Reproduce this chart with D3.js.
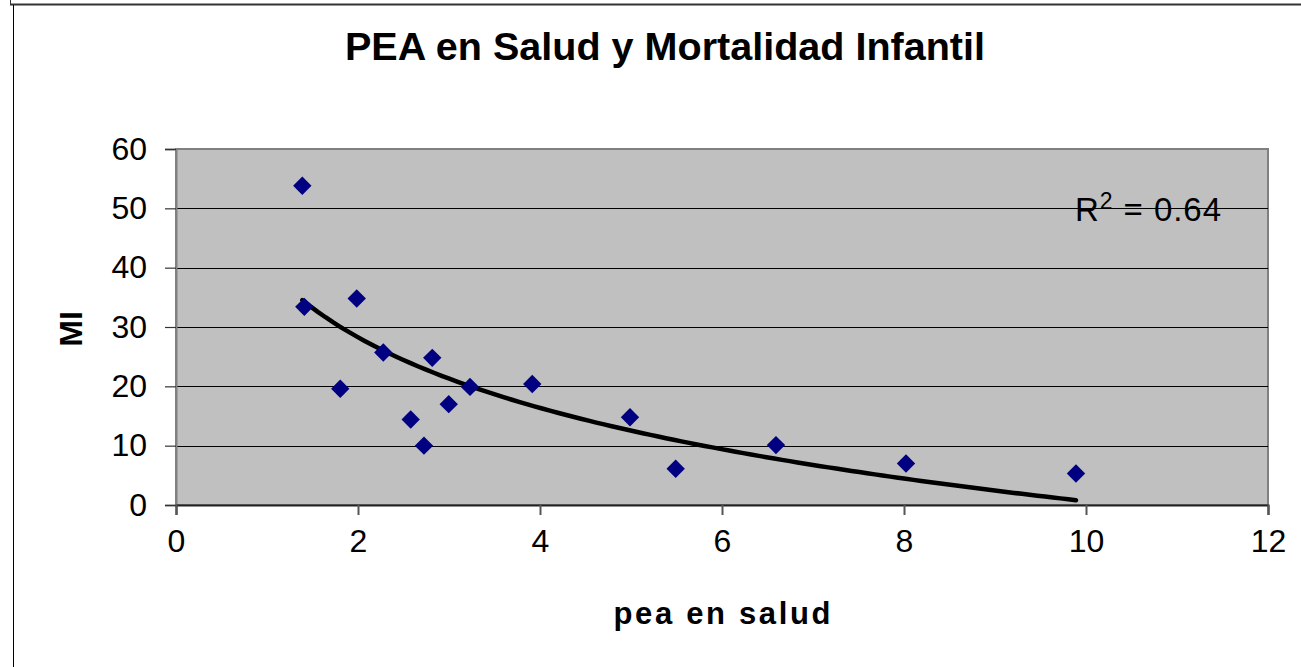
<!DOCTYPE html>
<html>
<head>
<meta charset="utf-8">
<script src="https://cdn.jsdelivr.net/npm/d3@7"></script>
<style>
  html, body { margin: 0; padding: 0; background: #fff; }
  svg { display: block; font-family: "Liberation Sans", Arial, sans-serif; }
</style>
</head>
<body>
<svg id="chart" width="1301" height="667"></svg>
<script>
// ---- data ----
const title = "PEA en Salud y Mortalidad Infantil";
const xTitle = "pea en salud";
const yTitle = "MI";
const peaSalud = [1.388, 1.410, 1.986, 1.805, 2.278, 2.579, 2.725, 2.816, 2.997, 3.231, 3.915, 4.989, 5.491, 6.593, 8.022, 9.890];
const mortInfantil = [53.8, 33.4, 34.8, 19.6, 25.7, 14.4, 10.0, 24.8, 17.0, 19.9, 20.4, 14.8, 6.1, 10.1, 7.0, 5.3];
const xTicks = [0, 2, 4, 6, 8, 10, 12];
const yTicks = [0, 10, 20, 30, 40, 50, 60];

// ---- layout ----
const W = 1301, H = 667;
const plot = { left: 176, right: 1268, top: 149, bottom: 505 };
const svg = d3.select("#chart");

const x = d3.scaleLinear().domain([0, 12]).range([plot.left, plot.right]);
const y = d3.scaleLinear().domain([0, 60]).range([plot.bottom, plot.top]);

// outer chart frame (partially cropped in reference)
svg.append("line").attr("x1", 10).attr("x2", W).attr("y1", 4.5).attr("y2", 4.5)
  .attr("stroke", "#333").attr("stroke-width", 2);
svg.append("line").attr("x1", 10.5).attr("x2", 10.5).attr("y1", 0).attr("y2", 5)
  .attr("stroke", "#333").attr("stroke-width", 1);
svg.append("line").attr("x1", 13.5).attr("x2", 13.5).attr("y1", 5).attr("y2", H)
  .attr("stroke", "#000").attr("stroke-width", 1);

// plot area background
svg.append("rect")
  .attr("x", plot.left).attr("y", plot.top)
  .attr("width", plot.right - plot.left).attr("height", plot.bottom - plot.top)
  .attr("fill", "#C0C0C0").attr("stroke", "#808080").attr("stroke-width", 2);

// gridlines
svg.append("g").selectAll("line")
  .data(yTicks.filter(d => d > 0 && d < 60))
  .join("line")
  .attr("x1", plot.left).attr("x2", plot.right)
  .attr("y1", d => Math.round(y(d)) + 0.5).attr("y2", d => Math.round(y(d)) + 0.5)
  .attr("stroke", "#000").attr("stroke-width", 1);

// y axis
const yAxis = d3.axisLeft(y).tickValues(yTicks).tickSize(11).tickPadding(18).tickFormat(d3.format("d"));
const gy = svg.append("g").attr("transform", `translate(${plot.left},0)`).call(yAxis);
gy.select(".domain").attr("stroke", "#808080").attr("stroke-width", 2);
gy.selectAll(".tick line").attr("stroke", "#333").attr("stroke-width", 1.2);
gy.selectAll(".tick text").attr("font-size", 32).attr("fill", "#000")
  .attr("font-family", "Liberation Sans, Arial, sans-serif");

// x axis
const xAxis = d3.axisBottom(x).tickValues(xTicks).tickSize(10).tickPadding(14).tickFormat(d3.format("d"));
const gx = svg.append("g").attr("transform", `translate(0,${plot.bottom})`).call(xAxis);
gx.select(".domain").attr("stroke", "#222").attr("stroke-width", 2);
gx.selectAll(".tick line").attr("stroke", "#555").attr("stroke-width", 2);
gx.selectAll(".tick text").attr("font-size", 32).attr("fill", "#000")
  .attr("font-family", "Liberation Sans, Arial, sans-serif");

// logarithmic trendline (least squares of y on ln x)
const lx = peaSalud.map(Math.log);
const mx = d3.mean(lx), my = d3.mean(mortInfantil);
let sxy = 0, sxx = 0, syy = 0;
lx.forEach((v, i) => {
  sxy += (v - mx) * (mortInfantil[i] - my);
  sxx += (v - mx) * (v - mx);
  syy += (mortInfantil[i] - my) * (mortInfantil[i] - my);
});
const slope = sxy / sxx, intercept = my - slope * mx;
const r2 = (sxy * sxy) / (sxx * syy);
const [xmin, xmax] = d3.extent(peaSalud);
const trend = d3.range(0, 101).map(i => {
  const xv = xmin + (xmax - xmin) * i / 100;
  return [xv, intercept + slope * Math.log(xv)];
});
svg.append("path")
  .datum(trend)
  .attr("d", d3.line().x(d => x(d[0])).y(d => y(d[1])))
  .attr("fill", "none").attr("stroke", "#000").attr("stroke-width", 4.5)
  .attr("stroke-linejoin", "round").attr("stroke-linecap", "round");

// points (diamonds)
const diamond = d3.symbol().type(d3.symbolSquare).size(169);
svg.append("g").selectAll("path")
  .data(peaSalud.map((v, i) => [v, mortInfantil[i]]))
  .join("path")
  .attr("d", diamond)
  .attr("transform", d => `translate(${x(d[0])},${y(d[1])}) rotate(45)`)
  .attr("fill", "#000080");

// R² label
const rt = svg.append("text").attr("x", 1075).attr("y", 221)
  .attr("font-size", 33).attr("fill", "#000")
  .attr("textLength", 146).attr("lengthAdjust", "spacing");
rt.append("tspan").text("R");
rt.append("tspan").attr("font-size", 23).attr("dy", -12).text("2");
rt.append("tspan").attr("dy", 12).text(" = " + r2.toFixed(2));

// titles
svg.append("text").attr("x", 665).attr("y", 60).attr("text-anchor", "middle")
  .attr("font-size", 39).attr("font-weight", "bold").attr("fill", "#000")
  .attr("textLength", 640).attr("lengthAdjust", "spacingAndGlyphs")
  .text(title);

svg.append("text").attr("x", 722).attr("y", 624).attr("text-anchor", "middle")
  .attr("font-size", 31).attr("font-weight", "bold").attr("fill", "#000")
  .attr("textLength", 217).attr("lengthAdjust", "spacing")
  .text(xTitle);

svg.append("text")
  .attr("transform", "translate(82,329) rotate(-90)")
  .attr("text-anchor", "middle")
  .attr("font-size", 32).attr("font-weight", "bold").attr("fill", "#000")
  .text(yTitle);
</script>
</body>
</html>
